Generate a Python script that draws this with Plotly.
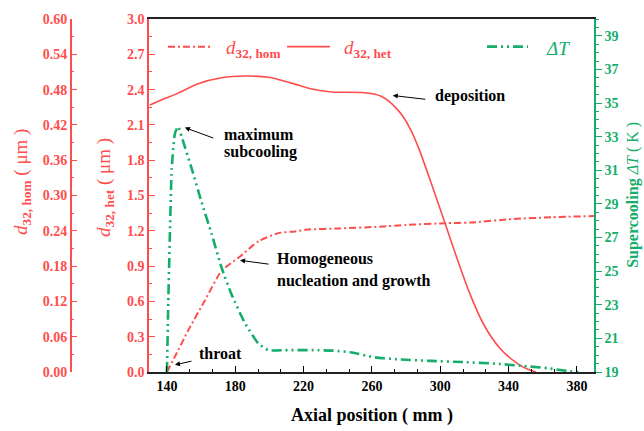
import plotly.graph_objects as go

# ---------------- data ----------------
het_x = [130, 138, 146.6, 158.3, 172, 185.7, 199.4, 213, 224.7, 236.5, 254, 261.8,
         266, 270, 274, 278, 283, 287.7, 295.8, 302.8, 309.7, 317.5, 325.2, 335, 344.8,
         351, 356]
het_y = [2.27, 2.32, 2.37, 2.45, 2.50, 2.515, 2.505, 2.455, 2.405, 2.38, 2.375, 2.36,
         2.34, 2.30, 2.245, 2.175, 2.05, 1.89, 1.56, 1.265, 0.97, 0.66, 0.41, 0.20, 0.076,
         0.025, 0.0]

hom_x = [140, 145, 152.5, 162.3, 172, 181.8, 193.5, 205.2, 215, 222, 241, 264.7,
         280, 303.8, 317.5, 342.6, 365, 390]
hom_y = [0.0, 0.028, 0.071, 0.122, 0.172, 0.194, 0.222, 0.236, 0.239, 0.242, 0.244,
         0.247, 0.250, 0.253, 0.254, 0.260, 0.263, 0.265]

dt_x = [140, 140.8, 141.8, 142.8, 144.7, 146.6, 148.6, 154.5, 160.3, 166.2, 172, 177.9,
        185.7, 193.5, 199.4, 209.1, 225.7, 237.4, 249.1, 260.9, 274.5, 294, 313.5,
        333.1, 346.8, 362.4, 376, 381]
dt_y = [19.0, 23.2, 27.5, 31.1, 33.2, 33.6, 33.0, 31.1, 29.1, 27.2, 25.2, 23.6,
        21.9, 20.7, 20.3, 20.3, 20.3, 20.27, 20.15, 19.88, 19.76, 19.66, 19.59,
        19.49, 19.37, 19.23, 19.04, 19.0]

x_ticks_dtick = 40
het_range = [0, 3]
hom_range = [0, 0.6]
dt_range = [19, 40]

RED = "#FF4D4D"
GREEN = "#14AE6A"
FONT = "Liberation Serif"
HOM_DASH = "7px,3px,2px,3px"
DT_DASH = "10px,4px,2px,4px,2px,4px"

fig = go.Figure()
fig.add_trace(go.Scatter(
    x=hom_x, y=hom_y, yaxis="y2", mode="lines", name="d32,hom",
    line=dict(color=RED, width=2, dash=HOM_DASH, shape="spline", smoothing=0.6)))
fig.add_trace(go.Scatter(
    x=het_x, y=het_y, yaxis="y", mode="lines", name="d32,het",
    line=dict(color=RED, width=1.6, shape="spline", smoothing=0.8)))
fig.add_trace(go.Scatter(
    x=dt_x, y=dt_y, yaxis="y3", mode="lines", name="ΔT",
    line=dict(color=GREEN, width=2.6, dash=DT_DASH, shape="spline", smoothing=0.5)))

L = 60
PW = 594 - L


def px_x(p):
    return (p - L) / PW


def px_y(p):
    return (372.3 - p) / 357.3


axis_common = dict(showgrid=False, zeroline=False, showline=True, linewidth=1.5)

fig.update_layout(
    width=644, height=431,
    margin=dict(l=L, r=50, t=15, b=59),
    paper_bgcolor="white", plot_bgcolor="white",
    font=dict(family=FONT, size=14),
    showlegend=False,
    xaxis=dict(domain=[px_x(149), 1], range=[129.5, 390], tick0=140, dtick=x_ticks_dtick,
               ticks="inside", ticklen=6, tickcolor="black", linecolor="#222222",
               mirror=True, tickfont=dict(family=FONT, size=14, color="black", weight="bold"),
               minor=dict(tick0=140, dtick=x_ticks_dtick / 3, ticks="inside", ticklen=3,
                          tickcolor="black"),
               **axis_common),
    yaxis=dict(range=het_range, tick0=0, dtick=0.3, tickformat=".1f", anchor="x",
               ticks="inside", ticklen=6, tickcolor=RED, linecolor=RED,
               tickfont=dict(family=FONT, size=14, color=RED, weight="bold"),
               minor=dict(dtick=0.15, ticks="inside", ticklen=3, tickcolor=RED),
               **axis_common),
    yaxis2=dict(range=hom_range, tick0=0, dtick=0.06, tickformat=".2f", overlaying="y",
                anchor="free", position=px_x(70.7), side="left",
                ticks="inside", ticklen=6, tickcolor=RED, linecolor=RED,
                tickfont=dict(family=FONT, size=14, color=RED, weight="bold"),
                minor=dict(dtick=0.03, ticks="inside", ticklen=3, tickcolor=RED),
                **axis_common),
    yaxis3=dict(range=dt_range, tick0=19, dtick=2, overlaying="y", anchor="x", side="right",
                ticks="outside", ticklen=6, tickcolor=GREEN, linecolor=GREEN,
                tickfont=dict(family=FONT, size=14, color=GREEN, weight="bold"),
                minor=dict(dtick=0.5, ticks="outside", ticklen=3, tickcolor=GREEN),
                **axis_common),
)

# ---------- manual legend ----------
LEG_Y = 43
fig.add_shape(type="line", xref="paper", yref="paper", x0=px_x(168), x1=px_x(212),
              y0=px_y(LEG_Y), y1=px_y(LEG_Y), line=dict(color=RED, width=2, dash=HOM_DASH))
fig.add_shape(type="line", xref="paper", yref="paper", x0=px_x(287), x1=px_x(330),
              y0=px_y(LEG_Y), y1=px_y(LEG_Y), line=dict(color=RED, width=1.6))
fig.add_shape(type="line", xref="paper", yref="paper", x0=px_x(487), x1=px_x(528),
              y0=px_y(LEG_Y), y1=px_y(LEG_Y), line=dict(color=GREEN, width=2.6, dash=DT_DASH))
leg_texts = [
    ("<i>d</i><sub><b>32, hom</b></sub>", 224, RED),
    ("<i>d</i><sub><b>32, het</b></sub>", 342, RED),
    ("<i>ΔT</i>", 544, GREEN),
]
for (t, lx, c) in leg_texts:
    fig.add_annotation(x=px_x(lx), y=px_y(LEG_Y + 2), xref="paper", yref="paper", text=t,
                       showarrow=False, xanchor="left", yanchor="middle",
                       font=dict(family=FONT, size=19, color=c))

ann_font = dict(family=FONT, size=16, color="black", weight="bold")

# arrows (tip in data coordinates of the d32,het axis, tail offset in px)
arrows = [
    (272.2, 2.35, 34, 4),
    (150.5, 2.077, 30, 11),
    (182.8, 0.949, 30, 4),
    (144.7, 0.061, 18, -4),
]
for (ax_, ay_, dx, dy) in arrows:
    fig.add_annotation(x=ax_, y=ay_, xref="x", yref="y", text="", showarrow=True,
                       ax=dx, ay=dy, arrowhead=2, arrowsize=1, arrowwidth=1, arrowcolor="black")

labels = [
    ("deposition", 432.7, 93.3),
    ("maximum", 222.3, 131.7),
    ("subcooling", 222.3, 150),
    ("Homogeneous", 275, 258.3),
    ("nucleation and growth", 275, 280),
    ("throat", 196.7, 354),
]
for (t, lx, ly) in labels:
    fig.add_annotation(x=px_x(lx), y=px_y(ly), xref="paper", yref="paper", text=t,
                       showarrow=False, xanchor="left", yanchor="middle", font=ann_font)

# axis titles
titles = [
    ("<b>Axial position ( mm )</b>", 371.7, 416.7, 0, 18, "black"),
    ("<i>d</i><sub><b>32, hom</b></sub> ( μm )", 22, 180, -90, 19, RED),
    ("<i>d</i><sub><b>32, het</b></sub> ( μm )", 105, 186, -90, 19, RED),
    ("<b>Supercooling</b> <i>ΔT</i> ( K )", 633, 193, -90, 16, GREEN),
]
for (t, tx, ty, ang, sz, c) in titles:
    fig.add_annotation(x=px_x(tx), y=px_y(ty), xref="paper", yref="paper", text=t,
                       textangle=ang, showarrow=False, xanchor="center", yanchor="middle",
                       font=dict(family=FONT, size=sz, color=c))

fig.write_html("out.html", config={"displayModeBar": False},
               post_script="document.body.style.margin='0';")
